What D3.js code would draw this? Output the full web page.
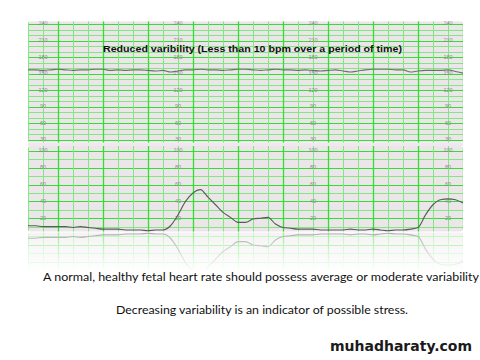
<!DOCTYPE html>
<html>
<head>
<meta charset="utf-8">
<script src="https://cdn.jsdelivr.net/npm/d3@7"></script>
<style>
  html, body { margin: 0; padding: 0; background: #fff; }
  svg { display: block; }
</style>
</head>
<body>
<svg id="chart" width="480" height="360"></svg>
<script>
// ---------------- DATA ----------------
const timeSec = d3.range(-20, 271, 5); // 59 samples, 5 s apart
const fhrValues = [157,157,156,157,158,157,156,157,157,158,158,156,157,156,157,157,156,155,156,153,
                   155,157,157,158,157,157,156,157,158,158,157,156,157,158,157,157,156,157,156,155,
                   156,157,155,153,155,157,158,158,158,157,157,153,155,156,156,156,157,154,151];
const tocoValues = [11,11,10,10,10,10,9,10,9,8,7,7,7,6,6,6,5,6,6,11,
                    24,40,50,54,45,36,27,21,15,15,19,20,21,13,9,8,7,7,7,6,
                    6,6,6,7,6,6,7,6,5,6,6,7,9,24,36,42,43,42,38];
const fhrTicks = [240, 210, 180, 150, 120, 90, 60, 30];
const tocoTicks = [100, 80, 60, 40, 20];
const labelColumnsSec = [-10, 80, 170, 260];
const titleText = "Reduced varibility (Less than 10 bpm over a period of time)";
const captionLines = [
  "A normal, healthy fetal heart rate should possess average or moderate variability",
  "Decreasing variability is an indicator of possible stress."
];
const watermark = "muhadharaty.com";

// ---------------- SCALES ----------------
const svg = d3.select("#chart");
const x = d3.scaleLinear().domain([-20, 270]).range([28, 463]);
const yU = d3.scaleLinear().domain([30, 240]).range([140, 24]);
const yL = d3.scaleLinear().domain([0, 100]).range([235, 151]);

const GRID_BG = "#ece6ea";
const MAJOR = "#2fe02f";
const MINOR = "#7fe87f";

const defs = svg.append("defs");
const grad = defs.append("linearGradient").attr("id", "fade")
  .attr("gradientUnits", "userSpaceOnUse").attr("x1", 0).attr("x2", 0).attr("y1", 232).attr("y2", 272);
grad.append("stop").attr("offset", 0).attr("stop-color", "#fff").attr("stop-opacity", 0.5);
grad.append("stop").attr("offset", 1).attr("stop-color", "#fff").attr("stop-opacity", 0);
defs.append("mask").attr("id", "fadeMask").attr("maskUnits", "userSpaceOnUse")
  .append("rect").attr("x", 0).attr("y", 232).attr("width", 480).attr("height", 40).attr("fill", "url(#fade)");

function drawPanel(g, yScale, dMin, dMax, hStep, ticks, values, lineColor, clipId, withLabels) {
  const top = yScale(dMax), bottom = yScale(dMin);
  const x0 = x.range()[0], x1 = x.range()[1];
  defs.append("clipPath").attr("id", clipId).append("rect")
    .attr("x", x0).attr("y", top).attr("width", x1 - x0).attr("height", bottom - top).attr("rx", 3);
  const pg = g.append("g").attr("clip-path", `url(#${clipId})`);
  pg.append("rect").attr("x", x0).attr("y", top).attr("width", x1 - x0).attr("height", bottom - top)
    .attr("fill", GRID_BG);
  const hVals = d3.range(Math.ceil(dMin / hStep) * hStep, dMax + 0.01, hStep);
  pg.selectAll("line.h").data(hVals).enter().append("line")
    .attr("x1", x0).attr("x2", x1)
    .attr("y1", d => Math.round(yScale(d)) + 0.5).attr("y2", d => Math.round(yScale(d)) + 0.5)
    .attr("stroke", d => ticks.includes(d) ? MAJOR : MINOR)
    .attr("stroke-width", 1);
  const vVals = d3.range(-20, 271, 10);
  pg.selectAll("line.v").data(vVals).enter().append("line")
    .attr("x1", d => Math.round(x(d)) + 0.5).attr("x2", d => Math.round(x(d)) + 0.5)
    .attr("y1", top).attr("y2", bottom)
    .attr("stroke", d => (d % 30 === 0) ? MAJOR : MINOR)
    .attr("stroke-width", d => (d % 30 === 0) ? 1.3 : 1);
  if (withLabels) {
    labelColumnsSec.forEach(c => {
      pg.selectAll(null).data(ticks).enter().append("text")
        .attr("x", x(c)).attr("y", d => yScale(d))
        .attr("text-anchor", "middle").attr("dominant-baseline", "middle")
        .attr("font-family", "Liberation Sans, Arial, sans-serif")
        .attr("font-size", 5.5).attr("fill", "#8a8a8a")
        .text(d => d);
    });
  }
  const line = d3.line().x((d, i) => x(timeSec[i])).y(d => yScale(d)).curve(d3.curveMonotoneX);
  g.append("path").datum(values).attr("d", line)
    .attr("fill", "none").attr("stroke", lineColor).attr("stroke-width", 1.1);
}

// gap band between panels
svg.append("rect").attr("x", x(-20)).attr("y", yU(25)).attr("width", x(270) - x(-20))
  .attr("height", yL(106) - yU(25)).attr("fill", "#efe8ee");

const upper = svg.append("g");
drawPanel(upper, yU, 25, 245, 10, fhrTicks, fhrValues, "#6f6f6f", "clipU", true);

const lower = svg.append("g");
drawPanel(lower, yL, 4, 106, 10, tocoTicks, tocoValues, "#5a5a5a", "clipL", true);

// faded reflection of the lower panel (no texts)
const refl = svg.append("g").attr("mask", "url(#fadeMask)")
  .append("g").attr("transform", `translate(0, ${2 * 232}) scale(1,-1)`);
drawPanel(refl, yL, 4, 106, 10, tocoTicks, tocoValues, "#5a5a5a", "clipR", false);

// title
svg.append("text")
  .attr("x", (x(-20) + x(270)) / 2 + 7).attr("y", 49)
  .attr("text-anchor", "middle").attr("dominant-baseline", "middle")
  .attr("font-family", "Liberation Sans, Arial, sans-serif")
  .attr("font-weight", "bold").attr("font-size", 9.6).attr("fill", "#111")
  .attr("textLength", 299).attr("lengthAdjust", "spacingAndGlyphs")
  .text(titleText);

// captions
svg.append("text").attr("x", 261).attr("y", 278)
  .attr("text-anchor", "middle").attr("dominant-baseline", "middle")
  .attr("font-family", "Lato, 'Open Sans', sans-serif").attr("font-size", 12).attr("fill", "#111")
  .attr("textLength", 436).attr("lengthAdjust", "spacingAndGlyphs")
  .text(captionLines[0]);
svg.append("text").attr("x", 262).attr("y", 311)
  .attr("text-anchor", "middle").attr("dominant-baseline", "middle")
  .attr("font-family", "Lato, 'Open Sans', sans-serif").attr("font-size", 12).attr("fill", "#111")
  .attr("textLength", 292).attr("lengthAdjust", "spacingAndGlyphs")
  .text(captionLines[1]);

svg.append("text").attr("x", 401).attr("y", 347)
  .attr("text-anchor", "middle").attr("dominant-baseline", "middle")
  .attr("font-family", "'DejaVu Sans', Verdana, sans-serif").attr("font-weight", "bold")
  .attr("font-size", 14).attr("fill", "#1a1a1a")
  .text(watermark);
</script>
</body>
</html>
